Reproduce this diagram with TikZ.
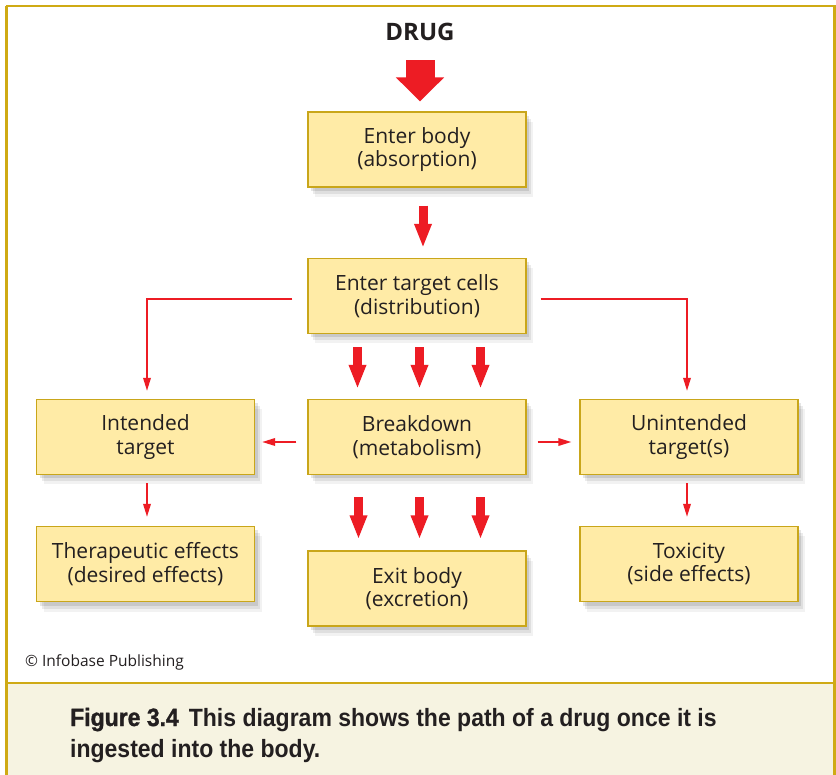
\documentclass[tikz,border=0pt]{standalone}
\usepackage{fontspec}
\setmainfont{Open Sans}
\newfontfamily\capfont[FakeStretch=0.92]{Liberation Sans}
\usetikzlibrary{arrows.meta,shadows,calc}
\definecolor{gold}{HTML}{CFAA14}
\definecolor{boxfill}{HTML}{FFEBA6}
\definecolor{boxborder}{HTML}{C9A61A}
\definecolor{arrowred}{HTML}{ED1C24}
\definecolor{cream}{HTML}{F6F3E1}
\definecolor{txt}{HTML}{231F20}
\begin{document}
\begin{tikzpicture}[x=1pt,y=-1pt,
  shadowstack/.style={
    drop shadow={shadow xshift=3pt,shadow yshift=-4pt,opacity=0.10,fill=black},
    drop shadow={shadow xshift=5pt,shadow yshift=-7pt,opacity=0.08,fill=black},
    drop shadow={shadow xshift=7pt,shadow yshift=-10pt,opacity=0.05,fill=black}},
  box/.style={draw=boxborder, line width=1.3pt, fill=boxfill, minimum width=218pt,
    minimum height=75pt, inner sep=0pt, align=center, text=txt,
    font=\fontsize{21}{23.5}\selectfont, shadowstack},
  bigarrow/.style={draw=arrowred, line width=29pt, -{Triangle[width=47pt,length=24pt]}},
  medarrow/.style={draw=arrowred, line width=9pt, -{Triangle[width=16pt,length=24pt]}},
  thinarrow/.style={draw=arrowred, line width=1.8pt, -{Triangle[width=7.5pt,length=13pt]}}
]
\useasboundingbox (0,0) rectangle (836,775);
% frame and caption area
\fill[white] (0,0) rectangle (836,775);
\fill[cream] (6.5,683) rectangle (834,780);
\draw[gold, line width=2.6pt] (6.3,6.2) -- (834.3,6.2) -- (834.3,780);
\draw[gold, line width=2.6pt] (6.3,6.2) -- (6.3,780);
\draw[gold, line width=2.6pt] (6.3,683) -- (834.3,683);

% title
\node[inner sep=0pt, anchor=base, font=\bfseries\fontsize{24}{28}\selectfont, text=txt] (drug) at (420,41) {DRUG};

% boxes
\node[box] (body) at (417,149.5) {Enter body\\(absorption)};
\node[box] (tc) at (417,296) {Enter target cells\\(distribution)};
\node[box] (it) at (145.5,437) {Intended\\target};
\node[box] (bd) at (417,437) {Breakdown\\(metabolism)};
\node[box] (ut) at (689,437) {Unintended\\target(s)};
\node[box] (th) at (145.5,564) {Therapeutic effects\\(desired effects)};
\node[box] (ex) at (417,588.5) {Exit body\\(excretion)};
\node[box] (tx) at (689,564) {Toxicity\\(side effects)};

% arrows
\draw[bigarrow, shorten <=19pt, shorten >=10pt] (drug.south) -- (drug.south |- body.north);
\draw[medarrow, shorten <=18pt, shorten >=10pt] ([xshift=6pt]body.south) -- ([xshift=6pt]tc.north);
\foreach \dx in {-59.5,2.5,63.5}
  \draw[medarrow, shorten <=13pt, shorten >=10pt] ([xshift=\dx pt]tc.south) -- ([xshift=\dx pt]bd.north);
\foreach \dx in {-58.5,2.5,63.5}
  \draw[medarrow, shorten <=22pt, shorten >=11pt] ([xshift=\dx pt]bd.south) -- ([xshift=\dx pt]ex.north);

\draw[thinarrow, shorten >=8pt] ($(tc.west)+(-15,3)$) -| ($(it.north)+(1.5,0)$);
\draw[thinarrow, shorten >=8pt] ($(tc.east)+(14,3)$) -| ($(ut.north)+(-2,0)$);
\draw[thinarrow] ($(bd.west)+(-11,5)$) -- ($(it.east)+(7,5)$);
\draw[thinarrow] ($(bd.east)+(11,5)$) -- ($(ut.west)+(-8,5)$);
\draw[thinarrow] ($(it.south)+(1.5,8)$) -- ($(th.north)+(1.5,-9)$);
\draw[thinarrow] ($(ut.south)+(-2,8)$) -- ($(tx.north)+(-2,-9)$);

% credit
\node[anchor=base west, inner sep=0pt, text=txt, font=\fontsize{15.5}{18}\selectfont] (credit) at (25,666) {© Infobase Publishing};

% caption
\node[anchor=base west, inner sep=0pt, text=txt, font=\capfont\bfseries\fontsize{25}{30}\selectfont] (cap1) at (70,726)
  {{\addfontfeature{FakeBold=1.2}Figure 3.4}\hspace{0.4em}This diagram shows the path of a drug once it is};
\node[anchor=base west, inner sep=0pt, text=txt, font=\capfont\bfseries\fontsize{25}{30}\selectfont] (cap2) at (70,757)
  {ingested into the body.};
\end{tikzpicture}
\end{document}
